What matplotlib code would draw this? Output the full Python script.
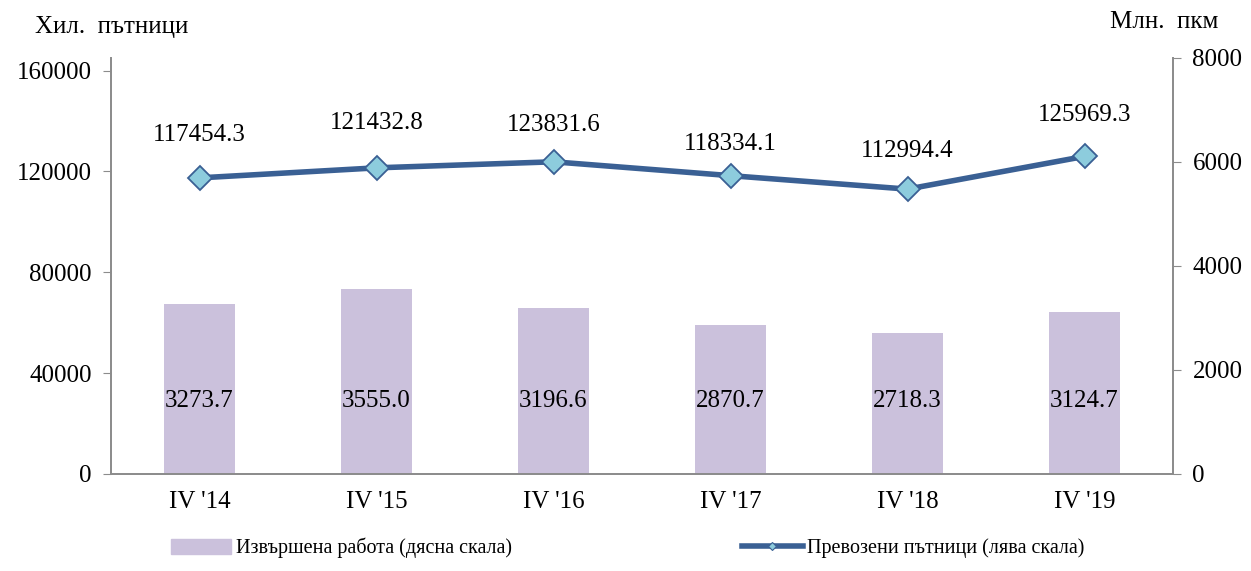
import matplotlib.pyplot as plt
import numpy as np
from matplotlib.lines import Line2D
from matplotlib.patches import Patch

plt.rcParams['font.family'] = ['Liberation Serif', 'DejaVu Serif']

# data
quarters = ["IV '14", "IV '15", "IV '16", "IV '17", "IV '18", "IV '19"]
passengers = [117454.3, 121432.8, 123831.6, 118334.1, 112994.4, 125969.3]   # thousand, left axis
work_done = [3273.7, 3555.0, 3196.6, 2870.7, 2718.3, 3124.7]                # mln pkm, right axis

# label offsets above the points (pixels), as placed in the original
label_offsets = [43, 45, 37, 32, 38, 41]

bar_color = '#CBC1DC'
line_color = '#3A6094'
marker_color = '#8DCCDD'
axis_gray = '#8C8C8C'

fig = plt.figure(figsize=(12.51, 5.71), dpi=100)
ax = fig.add_axes([111 / 1251, 97 / 571, 1062 / 1251, 416 / 571])
ax2 = ax.twinx()

x = np.arange(len(quarters))

# bars on the right scale, drawn behind the line
ax2.bar(x, work_done, width=0.4, color=bar_color, zorder=1)
for xi, v in zip(x, work_done):
    ax2.text(xi, 1400, '%.1f' % v, ha='center', va='center', fontsize=18)

ax.set_zorder(ax2.get_zorder() + 1)
ax.patch.set_visible(False)

ax.plot(x, passengers, color=line_color, lw=4, marker='D', ms=12,
        markerfacecolor=marker_color, markeredgecolor=line_color, mew=1.3)
for xi, v, off in zip(x, passengers, label_offsets):
    ax.annotate('%.1f' % v, (xi, v), xytext=(0, off * 0.72), textcoords='offset points',
                ha='center', va='center', fontsize=18)

ax.set_xlim(-0.5, len(quarters) - 0.5)
ax.set_ylim(0, 165000)
ax.set_yticks(np.arange(0, 160001, 40000))
ax2.set_ylim(0, 8000)
ax2.set_yticks(np.arange(0, 8001, 2000))

ax.set_xticks(x)
ax.set_xticklabels(quarters, fontsize=18)
ax.tick_params(axis='x', length=0, pad=12)
ax.tick_params(axis='y', labelsize=18, length=6, color=axis_gray, direction='out', pad=8)
ax2.tick_params(axis='y', labelsize=18, length=6, color=axis_gray, direction='out', pad=8)

for a in (ax, ax2):
    a.spines['top'].set_visible(False)
    for s in ('left', 'right', 'bottom'):
        a.spines[s].set_color(axis_gray)
        a.spines[s].set_linewidth(1.3)

fig.text(35 / 1251, 1 - 27 / 571, 'Хил.  пътници', fontsize=18, va='center', ha='left')
fig.text(1110 / 1251, 1 - 22 / 571, 'Млн.  пкм', fontsize=18, va='center', ha='left')

handles = [Patch(color=bar_color),
           Line2D([], [], color=line_color, lw=4, marker='D', ms=4,
                  markerfacecolor=marker_color, markeredgecolor=line_color, mew=0.8)]
labels = ['Извършена работа (дясна скала)', 'Превозени пътници (лява скала)']
fig.legend(handles, labels, loc='center left', bbox_to_anchor=(163 / 1251, 1 - 548 / 571),
           ncol=2, frameon=False, fontsize=14.5, columnspacing=11.45, handlelength=3,
           handleheight=0.8, handletextpad=0.2, borderaxespad=0)

fig.savefig('out.png', dpi=100)
